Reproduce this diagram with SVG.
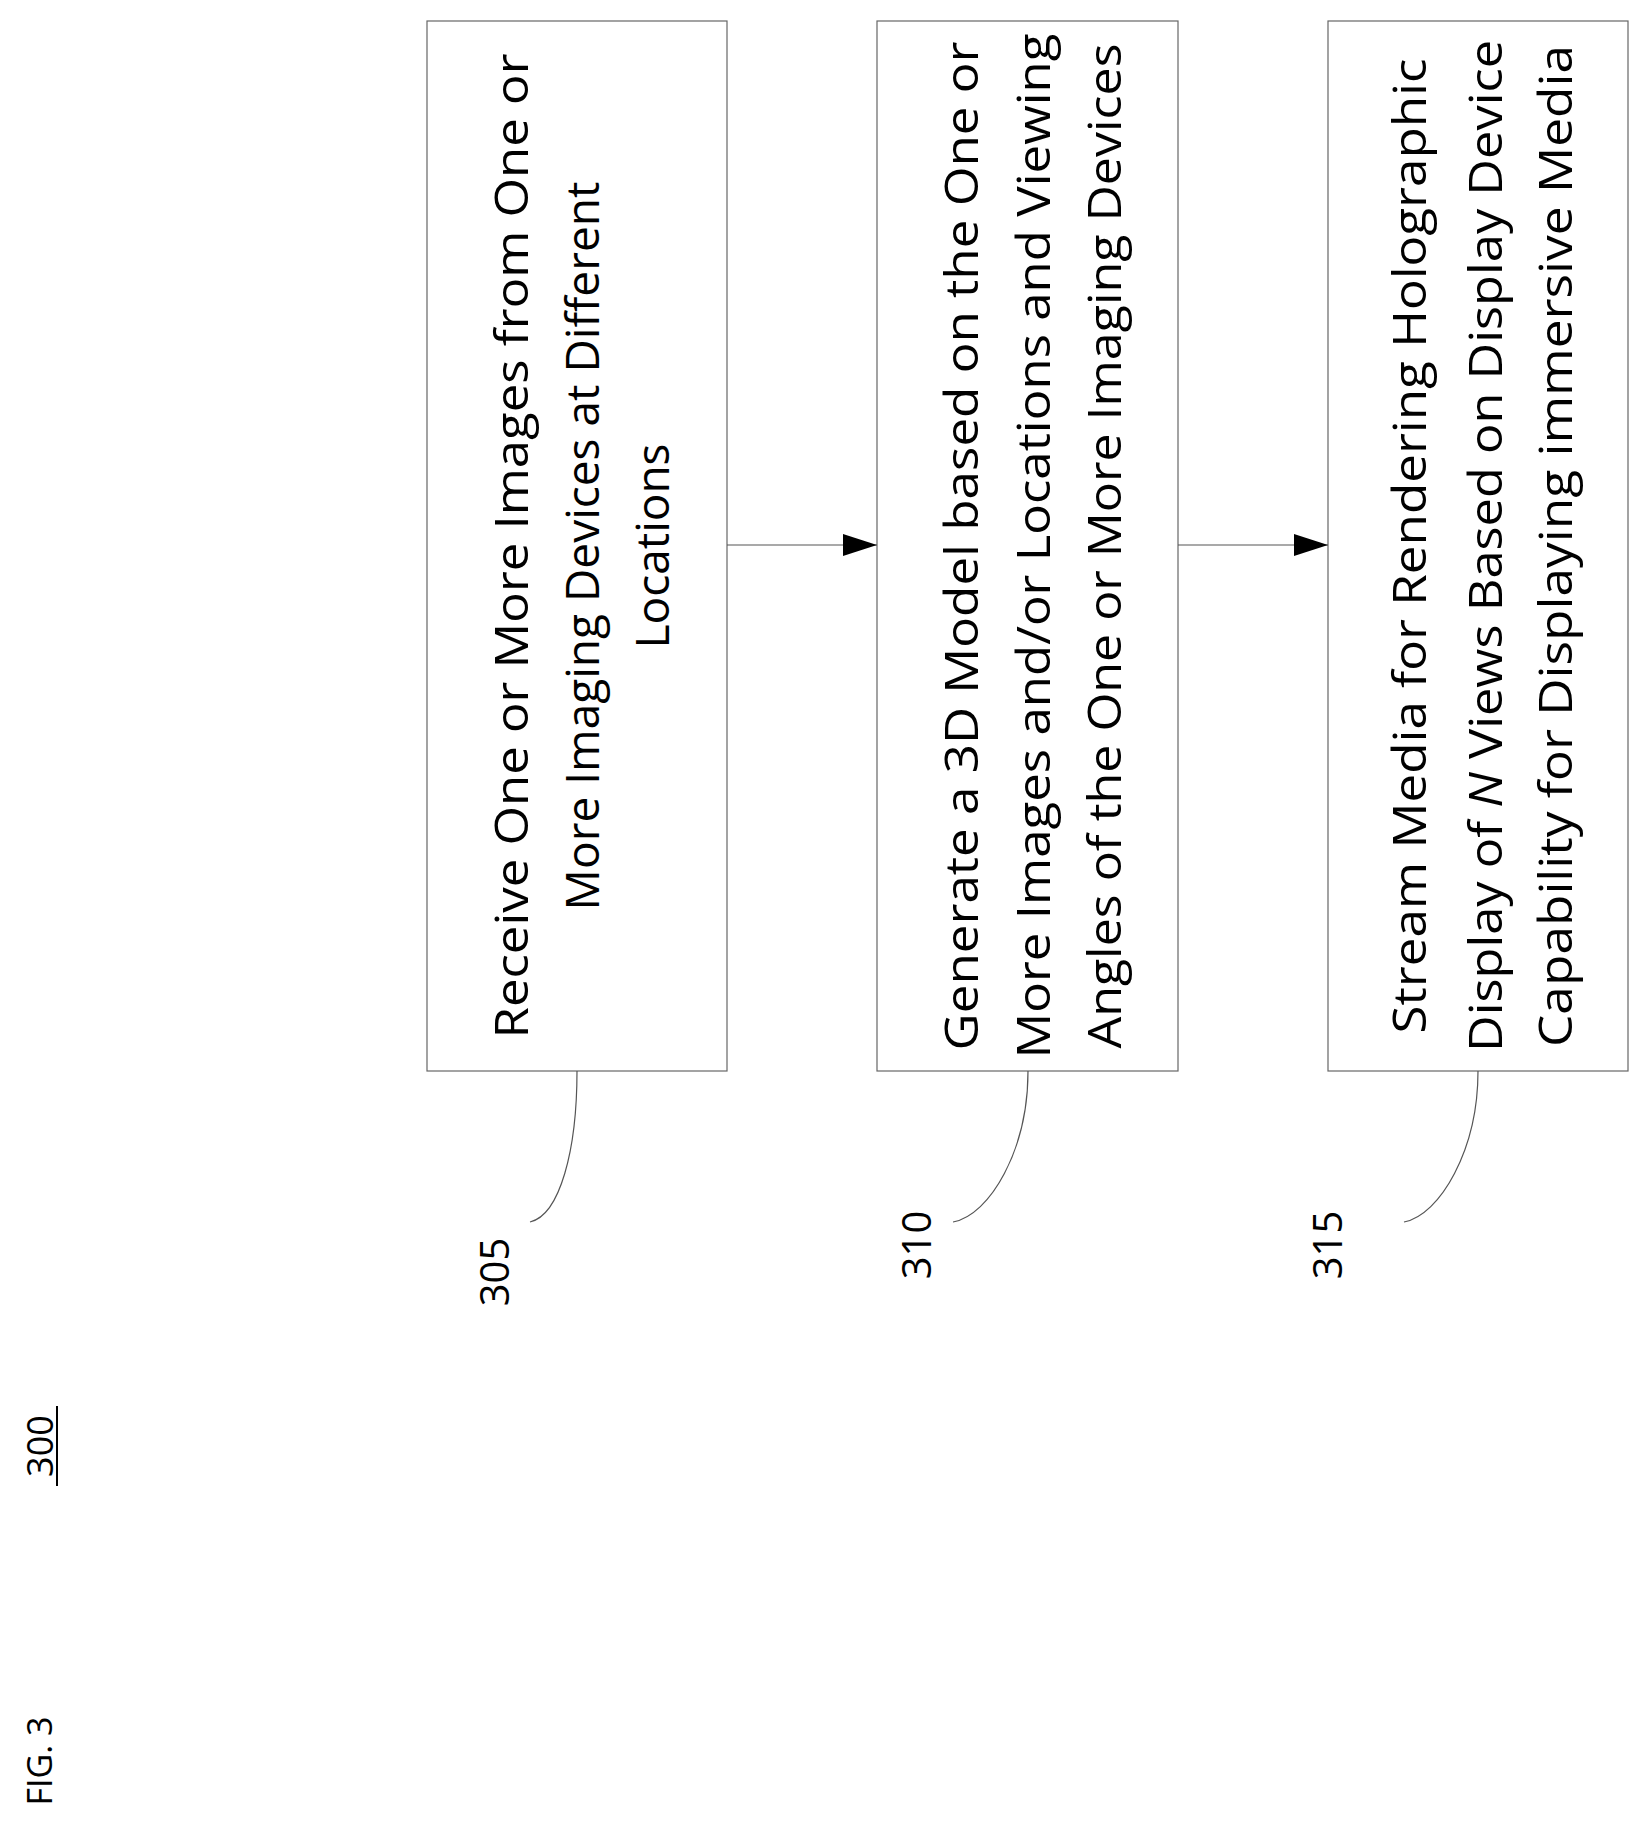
<svg xmlns="http://www.w3.org/2000/svg" width="1647" height="1837" viewBox="0 0 1647 1837">
<style>
.box{fill:#fff;stroke:#666;stroke-width:1.2}
.t{font-family:"Open Sans","Liberation Sans",sans-serif;font-size:46px;fill:#000;text-anchor:middle;dominant-baseline:central}
.l{font-family:"Open Sans","Liberation Sans",sans-serif;font-size:40px;fill:#000;text-anchor:middle;dominant-baseline:central}
.c{fill:none;stroke:#555;stroke-width:1.2}
</style>
<defs><marker id="ah" markerWidth="12" markerHeight="10" refX="12" refY="5" orient="auto" markerUnits="userSpaceOnUse" viewBox="0 0 12 10"><path d="M0,0 L12,5 L0,10 Z" fill="#000"/></marker>
<marker id="ah2" markerWidth="34" markerHeight="22" refX="34" refY="11" orient="auto" markerUnits="userSpaceOnUse" viewBox="0 0 34 22"><path d="M0,0 L34,11 L0,22 Z" fill="#000"/></marker></defs>
<g id="n305"><rect class="box" x="427" y="21" width="300" height="1050"/>
<text class="t" transform="translate(510,546) rotate(-90)" textLength="985" lengthAdjust="spacingAndGlyphs">Receive One or More Images from One or</text>
<text class="t" transform="translate(581,546) rotate(-90)">More Imaging Devices at Different</text>
<text class="t" transform="translate(651,546) rotate(-90)">Locations</text></g>
<g id="n310"><rect class="box" x="877" y="21" width="301" height="1050"/>
<text class="t" transform="translate(960,546) rotate(-90)" textLength="1009" lengthAdjust="spacingAndGlyphs">Generate a 3D Model based on the One or</text>
<text class="t" transform="translate(1032,546) rotate(-90)" textLength="1025" lengthAdjust="spacingAndGlyphs">More Images and/or Locations and Viewing</text>
<text class="t" transform="translate(1103,546) rotate(-90)" textLength="1005" lengthAdjust="spacingAndGlyphs">Angles of the One or More Imaging Devices</text></g>
<g id="n315"><rect class="box" x="1328" y="21" width="300" height="1050"/>
<text class="t" transform="translate(1408,546) rotate(-90)" textLength="975" lengthAdjust="spacingAndGlyphs">Stream Media for Rendering Holographic</text>
<text class="t" transform="translate(1484,546) rotate(-90)" textLength="1012" lengthAdjust="spacingAndGlyphs">Display of <tspan font-style="italic">N</tspan> Views Based on Display Device</text>
<text class="t" transform="translate(1554,546) rotate(-90)" textLength="1002" lengthAdjust="spacingAndGlyphs">Capability for Displaying immersive Media</text></g>
<g id="connectors">
<line class="c" x1="727" y1="545" x2="877" y2="545" marker-end="url(#ah2)"/>
<line class="c" x1="1178" y1="545" x2="1328" y2="545" marker-end="url(#ah2)"/>
<path class="c" d="M577,1071 C577,1150 560,1215 530,1222"/>
<path class="c" d="M1028,1071 C1028,1150 990,1215 953,1222"/>
<path class="c" d="M1478,1071 C1478,1150 1440,1215 1404,1222"/>
</g>
<g id="labels">
<text class="l" transform="translate(493,1272) rotate(-90)">305</text>
<text class="l" transform="translate(915,1245) rotate(-90)">310</text>
<text class="l" transform="translate(1326,1245) rotate(-90)">315</text>
<text class="l" transform="translate(39,1446) rotate(-90)" style="font-size:36px">300</text>
<line x1="57" y1="1406" x2="57" y2="1486" stroke="#000" stroke-width="2"/>
<text class="l" transform="translate(39,1761) rotate(-90)" style="font-size:34px">FIG. 3</text>
</g>
</svg>
